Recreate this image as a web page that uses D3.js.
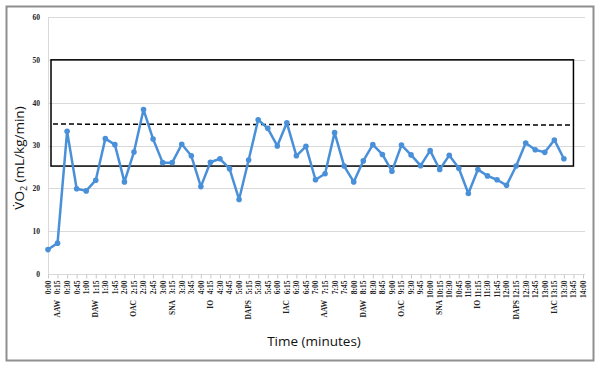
<!DOCTYPE html>
<html>
<head>
<meta charset="utf-8">
<script src="https://cdn.jsdelivr.net/npm/d3@7"></script>
<style>
  body { margin: 0; background: #fff; }
  svg { display: block; }
</style>
</head>
<body>
<script>
// data
var times = ["0:00","0:15","0:30","0:45","1:00","1:15","1:30","1:45","2:00","2:15","2:30","2:45",
    "3:00","3:15","3:30","3:45","4:00","4:15","4:30","4:45","5:00","5:15","5:30","5:45",
    "6:00","6:15","6:30","6:45","7:00","7:15","7:30","7:45","8:00","8:15","8:30","8:45",
    "9:00","9:15","9:30","9:45","10:00","10:15","10:30","10:45","11:00","11:15","11:30","11:45",
    "12:00","12:15","12:30","12:45","13:00","13:15","13:30","13:45","14:00"];

var vo2 = [5.7, 7.2, 33.3, 19.9, 19.4, 21.9, 31.6, 30.2, 21.5, 28.5, 38.4, 31.5,
    26.0, 26.0, 30.3, 27.6, 20.4, 26.1, 26.9, 24.6, 17.4, 26.6, 36.0, 34.0,
    29.9, 35.3, 27.6, 29.8, 22.0, 23.4, 33.0, 25.2, 21.5, 26.4, 30.2, 27.9,
    24.0, 30.1, 27.8, 25.3, 28.8, 24.4, 27.7, 24.7, 18.8, 24.4, 22.9, 22.0,
    20.7, 25.2, 30.6, 29.0, 28.4, 31.3, 26.9];

// activity labels under the time ticks
var activities = [
    {time: "0:15", name: "AAW"}, {time: "1:15", name: "DAW"}, {time: "2:15", name: "OAC"},
    {time: "3:15", name: "SNA"}, {time: "4:15", name: "IO"}, {time: "5:15", name: "DAPS"},
    {time: "6:15", name: "IAC"}, {time: "7:15", name: "AAW"}, {time: "8:15", name: "DAW"},
    {time: "9:15", name: "OAC"}, {time: "10:15", name: "SNA"}, {time: "11:15", name: "IO"},
    {time: "12:15", name: "DAPS"}, {time: "13:15", name: "IAC"}];

var yTicks = [0, 10, 20, 30, 40, 50, 60];

// target zone box and dashed reference line
var zoneBox = {from: "0:00", to: "13:45", low: 25.2, high: 50};
var dashLine = [{t: "0:00", v: 35.0}, {t: "13:45", v: 34.8}];

var width = 600, height = 367;

var svg = d3.select("body").append("svg")
    .attr("width", width)
    .attr("height", height);

// outer frame
svg.append("rect")
    .attr("x", 6.5).attr("y", 6.5)
    .attr("width", 587).attr("height", 354)
    .attr("fill", "#fff")
    .attr("stroke", "#8f8f8f")
    .attr("stroke-width", 2);

var xScale = d3.scalePoint()
    .domain(times)
    .range([48, 583]);

var yScale = d3.scaleLinear()
    .domain([0, 60])
    .range([274, 17]);

// gridlines
svg.append("g")
    .attr("class", "gridlines")
    .selectAll("line")
    .data(yTicks)
    .enter().append("line")
    .attr("x1", 48).attr("x2", 585)
    .attr("y1", function (d) { return Math.round(yScale(d)) + 0.5; })
    .attr("y2", function (d) { return Math.round(yScale(d)) + 0.5; })
    .attr("stroke", "#d9d9d9")
    .attr("stroke-width", 1);

// y axis line
svg.append("line")
    .attr("x1", 48.5).attr("x2", 48.5)
    .attr("y1", yScale(60)).attr("y2", yScale(0))
    .attr("stroke", "#d9d9d9");

var yAxis = d3.axisLeft(yScale)
    .tickValues(yTicks)
    .tickSize(0)
    .tickPadding(8);

svg.append("g")
    .attr("transform", "translate(48,0)")
    .call(yAxis)
    .call(function (g) { g.select(".domain").remove(); })
    .selectAll("text")
    .attr("font-family", "Liberation Serif")
    .attr("font-weight", "bold")
    .attr("font-size", "7.5px")
    .attr("fill", "#222");

// x axis
var xAxis = d3.axisBottom(xScale)
    .tickSize(4)
    .tickPadding(3);

var xg = svg.append("g")
    .attr("transform", "translate(0," + (Math.round(yScale(0)) + 0.5) + ")")
    .call(xAxis);

xg.select(".domain").attr("stroke", "#d9d9d9").attr("d", "M48,0H585");
xg.selectAll(".tick line").attr("stroke", "#c8c8c8");
xg.selectAll("text")
    .attr("font-family", "Liberation Serif")
    .attr("font-weight", "bold")
    .attr("font-size", "7.5px")
    .attr("fill", "#222")
    .attr("text-anchor", "end")
    .attr("dy", "0.32em")
    .attr("transform", "translate(0,6) rotate(-90)")
    .attr("x", 0).attr("y", 0);

svg.append("g")
    .selectAll("text")
    .data(activities)
    .enter().append("text")
    .attr("transform", function (d) {
        return "translate(" + xScale(d.time) + ",300) rotate(-90)";
    })
    .attr("dy", "0.32em")
    .attr("text-anchor", "end")
    .attr("font-family", "Liberation Serif")
    .attr("font-weight", "bold")
    .attr("font-size", "7.5px")
    .attr("fill", "#222")
    .text(function (d) { return d.name; });

// zone box
svg.append("rect")
    .attr("x", xScale(zoneBox.from) + 3)
    .attr("y", yScale(zoneBox.high))
    .attr("width", xScale(zoneBox.to) - xScale(zoneBox.from) - 3)
    .attr("height", yScale(zoneBox.low) - yScale(zoneBox.high))
    .attr("fill", "none")
    .attr("stroke", "#000")
    .attr("stroke-width", 1.5);

svg.append("line")
    .attr("x1", xScale(dashLine[0].t) + 5)
    .attr("x2", xScale(dashLine[1].t) - 2)
    .attr("y1", yScale(dashLine[0].v))
    .attr("y2", yScale(dashLine[1].v))
    .attr("stroke", "#000")
    .attr("stroke-width", 1.5)
    .attr("stroke-dasharray", "5,3");

// series
var line = d3.line()
    .x(function (d, i) { return xScale(times[i]); })
    .y(function (d) { return yScale(d); });

svg.append("path")
    .datum(vo2)
    .attr("d", line)
    .attr("fill", "none")
    .attr("stroke", "#4a90d9")
    .attr("stroke-width", 2.5)
    .attr("stroke-linejoin", "round");

svg.append("g")
    .selectAll("circle")
    .data(vo2)
    .enter().append("circle")
    .attr("cx", function (d, i) { return xScale(times[i]); })
    .attr("cy", function (d) { return yScale(d); })
    .attr("r", 2.8)
    .attr("fill", "#4a90d9");

// axis titles
svg.append("text")
    .attr("x", 314).attr("y", 346)
    .attr("text-anchor", "middle")
    .attr("font-family", "Open Sans")
    .attr("font-size", "13.5px")
    .attr("fill", "#111")
    .text("Time (minutes)");

var yTitle = svg.append("text")
    .attr("transform", "translate(24,158) rotate(-90)")
    .attr("text-anchor", "middle")
    .attr("font-family", "Open Sans")
    .attr("font-size", "13.5px")
    .attr("fill", "#111");
yTitle.append("tspan").text("V\u0307O");
yTitle.append("tspan").attr("font-size", "9px").attr("dy", "3").text("2");
yTitle.append("tspan").attr("dy", "-3").text(" (mL/kg/min)");
</script>
</body>
</html>
